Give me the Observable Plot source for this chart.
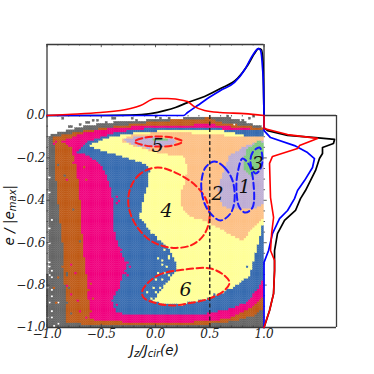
<!DOCTYPE html>
<html><head><meta charset="utf-8">
<script src="https://cdn.jsdelivr.net/npm/d3@7"></script>
<script src="https://cdn.jsdelivr.net/npm/@observablehq/plot@0.6"></script>
<style>html,body{margin:0;padding:0;background:#fff}</style>
</head><body><div id="chart"></div>
<script>
// Accent-coloured density levels: outlines as [Jz/Jcir, e/|emax|]
const colors = {grey:"#666666",brown:"#bf5b17",pink:"#f0027f",blue:"#386cb0",yellow:"#ffff99",orange:"#fdc086",purple:"#beaed4",green:"#7fc97f"};
const greyOutline = [[-.985,-.118],[-.968,-.094],[-.876,-.08],[-.783,-.071],[-.691,-.057],[-.562,-.047],[-.35,-.033],[-.046,-.024],[.295,-.014],[.581,-.009],[.72,-.014],[.83,-.033],[1.01,-.061],[1.01,-1.01],[-.995,-1.01],[-.985,-.5]];
const brownOutline = [[-.931,-.104],[-.719,-.08],[-.35,-.052],[-.046,-.033],[.276,-.019],[.507,-.014],[.645,-.042],[.829,-.047],[1.01,-.066],[1.01,-.91],[.903,-.948],[.719,-.972],[.507,-.986],[-.046,-.995],[-.507,-.991],[-.783,-.981],[-.811,-.976],[-.829,-.811],[-.848,-.604],[-.894,-.401],[-.922,-.236],[-.931,-.132]];
const pinkOutline = [[-.949,-.142],[-.811,-.113],[-.627,-.08],[-.35,-.057],[-.046,-.052],[.276,-.047],[.507,-.042],[.783,-.061],[1.01,-.071],[1.01,-.849],[.922,-.896],[.848,-.92],[.691,-.958],[.507,-.972],[.323,-.976],[-.23,-.976],[-.507,-.972],[-.599,-.958],[-.618,-.811],[-.664,-.604],[-.691,-.387],[-.719,-.259],[-.765,-.156],[-.829,-.132],[-.922,-.123]];
const blueOutline = [[-.719,-.175],[-.7,-.165],[-.627,-.127],[-.35,-.08],[-.046,-.061],[.276,-.057],[.507,-.061],[.783,-.071],[1.01,-.075],[1.01,-.769],[.94,-.825],[.848,-.882],[.719,-.91],[.507,-.934],[.323,-.943],[.11,-.943],[-.35,-.934],[-.396,-.873],[-.323,-.802],[-.258,-.708],[-.323,-.637],[-.387,-.519],[-.387,-.401],[-.415,-.321],[-.507,-.226],[-.618,-.189]];
const yellowOutline = [[-.608,-.142],[-.415,-.104],[-.138,-.08],[.295,-.066],[.553,-.066],[.737,-.085],[.857,-.099],[1.01,-.104],[1.01,-.472],[.986,-.533],[.922,-.67],[.876,-.755],[.719,-.816],[.507,-.863],[.323,-.882],[.249,-.896],[-.028,-.882],[.092,-.802],[.212,-.722],[.166,-.66],[.12,-.623],[0,-.566],[-.138,-.486],[-.111,-.41],[-.065,-.33],[-.046,-.259],[-.065,-.236],[-.212,-.208],[-.369,-.184],[-.507,-.165]];
const orangeOutline = [[-.323,-.118],[-.212,-.094],[.046,-.08],[.276,-.08],[.415,-.09],[.599,-.094],[.848,-.099],[1.01,-.104],[1.01,-.486],[.922,-.519],[.811,-.59],[.71,-.566],[.571,-.528],[.442,-.495],[.323,-.481],[.286,-.462],[.24,-.425],[.249,-.354],[.286,-.307],[.295,-.236],[.258,-.189],[.092,-.184],[-.065,-.165],[-.212,-.142]];
const purpleOutline = [[1.01,-.118],[.848,-.142],[.691,-.189],[.627,-.269],[.581,-.34],[.618,-.425],[.71,-.443],[.94,-.439],[1.01,-.41]];
const greenOutline = [[.949,-.118],[.848,-.165],[.811,-.222],[.829,-.259],[.894,-.292],[.949,-.255],[1.01,-.189],[1.01,-.137]];
const purpleCore5 = [[-.295,-.118],[-.184,-.104],[.028,-.104],[.23,-.118],[.157,-.142],[-.065,-.156],[-.184,-.142]];
const greenCore5 = [[-.028,-.108],[.12,-.108],[.12,-.118],[-.028,-.118]];

// stray cells
const greySpecks = [[-.857,-.019],[-.793,-.052],[-.765,-.057],[-.682,-.042],[-.627,-.033],[-.618,-.038],[-.562,-.024],[-.535,-.028],[-.516,-.047],[-.442,-.033],[-.396,-.019],[-.378,-.019],[-.203,-.014],[-.166,-.024],[0,-.009],[.046,-.019],[.138,-.014],[.664,-.009],[.82,-.024],[.876,-.014],[.912,-.009],[.866,-.047],[-.829,-.81],[-.8,-.755],[-.7,-.6],[-.76,-.45],[-.857,-.698],[-.82,-.745],[-.793,-.816],[-.811,-.882],[-.774,-.934],[-.885,-.236],[-.83,-.283]];
const whiteSpecks = [[-.977,-.693],[-.977,-.717],[-.959,-.731],[-.977,-.755],[-.949,-.764],[-.986,-.811],[-.959,-.825],[-.949,-.858],[-.977,-.882],[-.949,-.92],[-.894,-.887],[-.931,-.991],[-.885,-.981],[-.995,-.958],[-.959,-.953],[-.968,-.292],[-.968,-.368],[-.949,-.495],[-.968,-.604],[-.968,-.538],[.719,-.019],[.783,-.024],[.728,-.042],[.848,-.033],[.94,-.05],[.9,-.04]];
const yellowSpecks = [[.028,-.675],[.074,-.684],[.12,-.675],[.065,-.708],[.11,-.717],[.028,-.745],[.092,-.745],[.138,-.755],[.018,-.778],[.074,-.778],[.138,-.788],[-.018,-.811],[.046,-.816],[.11,-.811],[-.065,-.84],[0,-.84],[.065,-.849],[-.028,-.863],[-.065,-.344],[-.092,-.377],[-.12,-.415],[-.111,-.448],[-.138,-.481],[-.065,-.486],[0,-.533],[-.028,-.557],[.028,-.59],[.092,-.637],[.138,-.66]];
const blueSpecks = [[.922,-.693],[.876,-.764],[.756,-.811],[.553,-.849],[.85,-.72],[.66,-.83]];
const pinkSpecks = [[-.35,-.387],[-.323,-.401],[-.35,-.415],[-.341,-.613],[-.304,-.637],[-.35,-.651],[-.323,-.67],[-.258,-.698],[-.23,-.717],[-.276,-.741],[-.249,-.755],[-.323,-.816],[-.35,-.896],[-.765,-.708],[-.728,-.741],[-.811,-.802],[-.774,-.849],[-.719,-.873],[-.682,-.929],[-.636,-.953],[-.747,-.222],[-.811,-.302]];
const brownSpecks = [[-.728,-.755],[-.682,-.788],[-.636,-.811],[-.608,-.825],[-.562,-.863],[-.59,-.92],[-.931,-.816],[-.885,-.769],[-.912,-.887],[-.857,-.717],[-.654,-.708],[-.627,-.755],[-.59,-.792],[-.673,-.84],[-.654,-.245],[-.627,-.307]];

// marginal curves, panel units
const topBlackX = [-1,-.5,-.23,-.046,.092,.184,.295,.452,.599,.756,.848,.912,.949,.977,.991,.995,1];
const topBlackY = [0,0,.002,.009,.024,.038,.061,.09,.127,.175,.236,.292,.316,.311,.245,.142,0];
const topBlueX = [-1,.258,.295,.387,.479,.599,.728,.829,.894,.949,.968,.986,.995,1];
const topBlueY = [0,0,.014,.047,.08,.118,.156,.222,.283,.316,.307,.226,.142,0];
const topRedX = [-1,-.811,-.507,-.23,-.138,0,.11,.258,.295,.359,.452,.599,.82,1];
const topRedY = [0,.005,.014,.033,.047,.08,.08,.071,.066,.042,.024,.014,.009,0];
const rightBlackX = [1,1,1.032,1.217,1.475,1.65,1.64,1.539,1.539,1.511,1.475,1.428,1.382,1.336,1.29,1.189,1.124,1.097,1.097,1.097,1.088,1.051,1];
const rightBlackY = [0,-.057,-.071,-.094,-.104,-.113,-.132,-.151,-.179,-.203,-.259,-.307,-.354,-.392,-.448,-.495,-.557,-.637,-.684,-.731,-.84,-.92,-1];
const rightBlueX = [1,1,1.06,1.281,1.401,1.465,1.447,1.373,1.309,1.281,1.217,1.143,1.078,1.042,1,1];
const rightBlueY = [0,-.071,-.104,-.142,-.175,-.203,-.245,-.307,-.354,-.392,-.448,-.486,-.557,-.637,-.693,-1];
const rightRedX = [1,1,1.217,1.493,1.327,1.309,1.078,1.051,1.06,1.088,1.07,1.06,1.097,1.097,1.088,1.051,1];
const rightRedY = [0,-.061,-.09,-.108,-.142,-.156,-.193,-.226,-.387,-.481,-.557,-.637,-.684,-.731,-.84,-.92,-1];

// dashed selection regions
const region1 = [[.802,-.203],[.756,-.274],[.746,-.354],[.774,-.434],[.829,-.458],[.894,-.434],[.903,-.321],[.866,-.236]];
const region2 = [[.544,-.217],[.636,-.245],[.71,-.307],[.728,-.401],[.691,-.462],[.599,-.495],[.507,-.462],[.452,-.415],[.424,-.354],[.424,-.307],[.461,-.245]];
const region3 = [[.959,-.151],[.894,-.175],[.876,-.226],[.922,-.274],[.968,-.25],[.986,-.203]];
const region4 = [[.018,-.245],[-.138,-.274],[-.23,-.34],[-.249,-.425],[-.184,-.514],[-.046,-.59],[.138,-.623],[.323,-.613],[.442,-.566],[.498,-.486],[.47,-.401],[.369,-.33],[.203,-.274]];
const region5 = [[-.194,-.123],[-.092,-.104],[.028,-.099],[.157,-.104],[.249,-.123],[.157,-.142],[.028,-.146],[-.092,-.142]];
const region6 = [[-.12,-.825],[.018,-.755],[.276,-.726],[.507,-.722],[.636,-.755],[.682,-.788],[.636,-.825],[.498,-.863],[.295,-.887],[.166,-.896],[.018,-.887],[-.111,-.858]];

const labelNames = ["1","2","3","4","5","6"];
const labelX = [.82,.571,.94,.101,.018,.276];
const labelY = [-.335,-.368,-.226,-.448,-.142,-.821];

const xMajor = [-1,-.5,0,.5,1];
const xMinor = [-.9,-.8,-.7,-.6,-.4,-.3,-.2,-.1,.1,.2,.3,.4,.6,.7,.8,.9];
const yMajor = [-1,-.8,-.6,-.4,-.2,0];
const yMinor = [-.95,-.9,-.85,-.75,-.7,-.65,-.55,-.5,-.45,-.35,-.3,-.25,-.15,-.1,-.05];

const xEnd = 1.668, yEnd = 0.335, dX = 0.02, dY = 0.01;
// rasterise the outlines on the histogram's bin grid
const layers = [
 [greyOutline,colors.grey],[brownOutline,colors.brown],[pinkOutline,colors.pink],[blueOutline,colors.blue],
 [yellowOutline,colors.yellow],[orangeOutline,colors.orange],[purpleOutline,colors.purple],[greenOutline,colors.green],
 [purpleCore5,colors.purple],[greenCore5,colors.green]];
const grid = new Map();
for (let i=0;i<100;i++) for (let j=0;j<100;j++){
  const p=[-1+(i+.5)*dX,-1+(j+.5)*dY]; let c=null;
  for (const [poly,col] of layers) if (d3.polygonContains(poly,p)) c=col;
  if (c) grid.set(i+"_"+j,{i,j,c});
}
const paint=(list,c)=>{ for(const [x,y] of list){const i=Math.min(99,Math.floor((x+1)/dX)),j=Math.min(99,Math.floor((y+1)/dY)); if(c) grid.set(i+"_"+j,{i,j,c}); else grid.delete(i+"_"+j);} };
paint(greySpecks,colors.grey);paint(brownSpecks,colors.brown);paint(pinkSpecks,colors.pink);paint(blueSpecks,colors.blue);paint(yellowSpecks,colors.yellow);paint(whiteSpecks,null);
const cells=[...grid.values()];

const pairs=(X,Y)=>X.map((x,k)=>({x,y:Y[k]}));
const ring=(r,color)=>Plot.line(r.map(([x,y])=>({x,y})),{x:"x",y:"y",curve:"catmull-rom-closed",stroke:color,strokeWidth:2,strokeDasharray:"6.5,3.5"});
const frame="#3a3a3a";
const num=d=>d.toFixed(1).replace("-","\u2212");
const sans="'DejaVu Sans',sans-serif";

const plot=Plot.plot({
  width:374,height:374,marginLeft:46.5,marginRight:38,marginTop:44,marginBottom:47,
  x:{domain:[-1,xEnd],axis:null},y:{domain:[-1,yEnd],axis:null},
  style:{fontFamily:"'DejaVu Serif',serif",fontStyle:"italic",fontSize:"12px",background:"#fff",color:"#111"},
  marks:[
    Plot.rect(cells,{x1:d=>-1+d.i*dX,x2:d=>-1+(d.i+1)*dX,y1:d=>-1+d.j*dY,y2:d=>-1+(d.j+1)*dY,fill:"c",stroke:"c",strokeWidth:.35}),
    ring(region4,"#ff1a1a"),ring(region5,"#ff1a1a"),ring(region6,"#ff1a1a"),
    ring(region2,"#1a1aff"),ring(region1,"#1a1aff"),ring(region3,"#1a1aff"),
    Plot.ruleX([.5],{y1:-1,y2:0,stroke:"#222",strokeWidth:1.4,strokeDasharray:"4,2.5"}),
    // minor/major ticks
    Plot.ruleX(xMinor,{y1:-1,y2:-.993,stroke:frame,strokeWidth:.8}),
    Plot.ruleX(xMajor,{y1:-1,y2:-.985,stroke:frame,strokeWidth:.8}),
    Plot.ruleX(xMinor,{y1:0,y2:-.007,stroke:frame,strokeWidth:.8}),
    Plot.ruleX(xMajor,{y1:0,y2:-.015,stroke:frame,strokeWidth:.8}),
    Plot.ruleX(xMinor,{y1:yEnd,y2:yEnd-.007,stroke:frame,strokeWidth:.8}),
    Plot.ruleX(xMajor,{y1:yEnd,y2:yEnd-.015,stroke:frame,strokeWidth:.8}),
    Plot.ruleY(yMinor,{x1:-1,x2:-.986,stroke:frame,strokeWidth:.8}),
    Plot.ruleY(yMajor,{x1:-1,x2:-.97,stroke:frame,strokeWidth:.8}),
    Plot.ruleY(yMinor,{x1:1,x2:1.014,stroke:frame,strokeWidth:.8}),
    Plot.ruleY(yMajor,{x1:1,x2:1.03,stroke:frame,strokeWidth:.8}),
    // panel frames
    Plot.ruleY([-1],{x1:-1,x2:xEnd,stroke:frame,strokeWidth:1.3}),
    Plot.ruleY([0],{x1:1,x2:xEnd,stroke:frame,strokeWidth:1.3}),
    Plot.ruleY([yEnd],{x1:-1,x2:1,stroke:frame,strokeWidth:1.3}),
    Plot.ruleX([-1],{y1:-1,y2:yEnd,stroke:frame,strokeWidth:1.3}),
    Plot.ruleX([1],{y1:0,y2:yEnd,stroke:frame,strokeWidth:1.3}),
    Plot.ruleX([xEnd],{y1:-1,y2:0,stroke:frame,strokeWidth:1.3}),
    // marginals
    Plot.line(pairs(topBlackX,topBlackY),{x:"x",y:"y",stroke:"#000",strokeWidth:1.7,curve:"monotone-x"}),
    Plot.line(pairs(topBlueX,topBlueY),{x:"x",y:"y",stroke:"#0000ff",strokeWidth:1.7,curve:"monotone-x"}),
    Plot.line(pairs(topRedX,topRedY),{x:"x",y:"y",stroke:"#ff0000",strokeWidth:1.6,curve:"monotone-x"}),
    Plot.line(pairs(rightBlackX,rightBlackY),{x:"x",y:"y",stroke:"#000",strokeWidth:1.7}),
    Plot.line(pairs(rightBlueX,rightBlueY),{x:"x",y:"y",stroke:"#0000ff",strokeWidth:1.7}),
    Plot.line(pairs(rightRedX,rightRedY),{x:"x",y:"y",stroke:"#ff0000",strokeWidth:1.6}),
    // axes
    Plot.axisX({ticks:xMajor,anchor:"bottom",tickSize:0,tickPadding:2,tickFormat:num,fontSize:12,fill:"#222",label:null}),
    Plot.axisY({ticks:yMajor,anchor:"left",tickSize:0,tickPadding:1.5,tickFormat:num,fontSize:12,fill:"#222",label:null}),
    Plot.text(labelNames,{x:(d,k)=>labelX[k],y:(d,k)=>labelY[k],text:d=>d,fontSize:19,fill:"#111"}),
    Plot.text(["Jz/Jcir(e)"],{x:[-.01],y:[-1.108],text:d=>d,fontFamily:sans,fontSize:13.5,fill:"#111",className:"xlab"}),
    Plot.text(["e/|emax|"],{x:[-1.345],y:[-.47],text:d=>d,fontFamily:sans,fontSize:13.5,rotate:-90,fill:"#111",className:"ylab"})
  ]
});
document.getElementById("chart").appendChild(plot);
// subscripts for the axis titles
const setRich=(sel,parts)=>{
  const t=plot.querySelector(sel+" text"); if(!t) return; t.textContent="";
  const NS="http://www.w3.org/2000/svg";
  parts.forEach(([s,sub])=>{const e=document.createElementNS(NS,"tspan");e.textContent=s;
    if(sub){e.setAttribute("font-size","10");e.setAttribute("dy","2.5");}
    else if(t.childNodes.length&&t.lastChild.hasAttribute("dy")){e.setAttribute("dy","-2.5");}
    t.appendChild(e);});
};
setRich(".xlab",[["J"],["z",1],["/J"],["cir",1],["(e)"]]);
setRich(".ylab",[["e / |e"],["max",1],["|"]]);
</script></body></html>
